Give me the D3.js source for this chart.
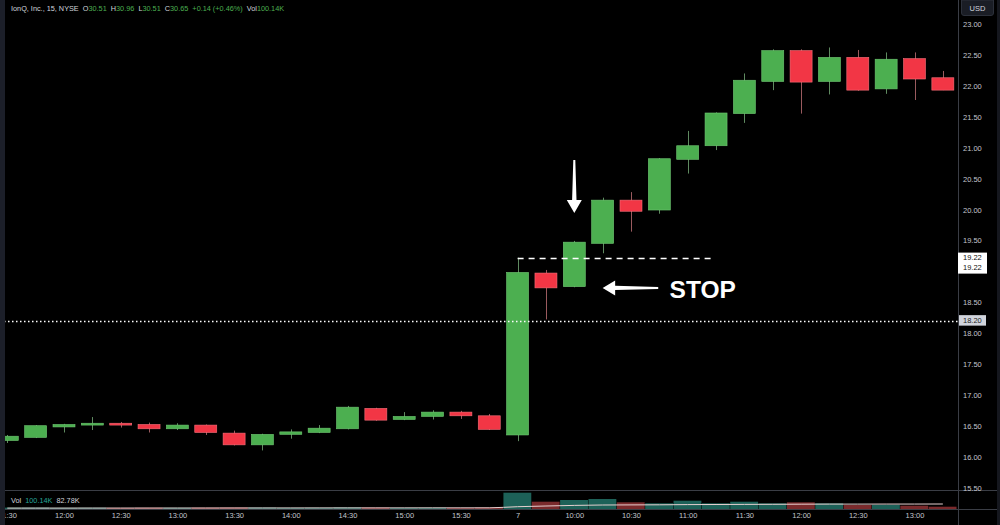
<!DOCTYPE html>
<html><head><meta charset="utf-8">
<script src="https://cdn.jsdelivr.net/npm/d3@7"></script>
<style>html,body{margin:0;padding:0;background:#000;}svg{display:block;}</style>
</head><body>
<svg id="chart" width="1000" height="525"></svg>
<script>
// ---- data (15-minute candles) ----
const times = ["11:30","11:45","12:00","12:15","12:30","12:45","13:00","13:15","13:30","13:45","14:00","14:15","14:30","14:45","15:00","15:15","15:30","15:45",
               "09:30","09:45","10:00","10:15","10:30","10:45","11:00","11:15","11:30","11:45","12:00","12:15","12:30","12:45","13:00","13:15"];
const opens  = [16.26,16.31,16.48,16.51,16.54,16.52,16.45,16.51,16.38,16.19,16.36,16.39,16.45,16.78,16.60,16.65,16.72,16.66,
                16.35,18.97,18.75,19.45,20.15,19.99,20.81,21.03,21.55,22.07,22.57,22.07,22.46,21.95,22.44,22.13];
const highs  = [16.35,16.51,16.53,16.64,16.56,16.55,16.54,16.52,16.42,16.37,16.44,16.51,16.82,16.79,16.72,16.75,16.74,16.69,
                19.22,19.02,19.49,20.19,20.28,20.83,21.27,21.57,22.20,22.59,22.59,22.62,22.58,22.54,22.54,22.24];
const lows   = [16.22,16.30,16.39,16.43,16.47,16.39,16.43,16.35,16.18,16.10,16.29,16.38,16.44,16.58,16.59,16.60,16.61,16.43,
                16.25,18.22,18.74,19.29,19.64,19.93,20.58,20.96,21.40,21.93,21.55,21.86,21.92,21.87,21.77,21.93];
const closes = [16.33,16.50,16.52,16.54,16.51,16.45,16.51,16.39,16.19,16.36,16.40,16.46,16.80,16.59,16.65,16.72,16.66,16.44,
                18.98,18.73,19.47,20.15,19.97,20.82,21.03,21.56,22.09,22.57,22.06,22.46,21.93,22.43,22.11,21.93];
const volumes = [140,150,120,130,110,130,120,140,160,150,120,130,170,150,120,130,110,150,
                 1630,730,900,1000,670,570,830,570,730,570,670,570,400,430,330,230]; // thousands
const volumeMA = [90,90,92,95,95,96,98,100,102,104,106,108,110,112,114,116,118,120,
                  230,300,360,400,410,420,440,450,460,470,480,490,490,495,495,500];
const priceTicks = [15.5,16,16.5,17,17.5,18,18.5,19.5,20,20.5,21,21.5,22,22.5,23];
const timeTickIdx = [0,2,4,6,8,10,12,14,16,18,20,22,24,26,28,30,32];
const timeTickLabels = ["11:30","12:00","12:30","13:00","13:30","14:00","14:30","15:00","15:30","7","10:00","10:30","11:00","11:30","12:00","12:30","13:00"];
const stopPrice = 19.22, lineLevel = 18.20;

// ---- layout / scales ----
const svg = d3.select("#chart");
const W = 1000, H = 525, axisX = 958.5;
const x = d3.scaleLinear().domain([0, times.length - 1]).range([7.3, 7.3 + 33 * 28.35]);
const y = d3.scaleLinear().domain([15.5, 23]).range([487.5, 24]);
const yv = d3.scaleLinear().domain([0, 1800]).range([509, 491]);
const bw = 22, step = 28.35;
const GREEN = "#4caf50", RED = "#f23645";
const FONT = "'Liberation Sans', Arial, sans-serif";

svg.append("rect").attr("width", W).attr("height", H).attr("fill", "#000");

const defs = svg.append("defs");
defs.append("clipPath").attr("id", "plot").append("rect").attr("x", 0).attr("y", 0).attr("width", axisX).attr("height", 490);
defs.append("clipPath").attr("id", "vol").append("rect").attr("x", 0).attr("y", 491).attr("width", axisX).attr("height", 18);

const data = times.map((t, i) => ({t, i, o: opens[i], h: highs[i], l: lows[i], c: closes[i], v: volumes[i], ma: volumeMA[i]}));

// ---- volume pane ----
const vg = svg.append("g").attr("clip-path", "url(#vol)");
vg.selectAll("rect.v").data(data).join("rect")
  .attr("x", d => x(d.i) - step / 2).attr("width", step - 0.5)
  .attr("y", d => yv(d.v)).attr("height", d => yv(0) - yv(d.v))
  .attr("fill", d => d.c >= d.o ? "#1d6158" : "#7a2a2c");
vg.append("path").datum(data)
  .attr("d", d3.line().x(d => x(d.i)).y(d => yv(d.ma)).curve(d3.curveMonotoneX))
  .attr("fill", "none").attr("stroke", "#e6cfcf").attr("stroke-width", 1);

// ---- candles ----
const cg = svg.append("g").attr("clip-path", "url(#plot)");
cg.selectAll("line.w").data(data).join("line")
  .attr("x1", d => Math.round(x(d.i)) + 0.5).attr("x2", d => Math.round(x(d.i)) + 0.5)
  .attr("y1", d => y(d.h)).attr("y2", d => y(d.l))
  .attr("stroke", d => d.c >= d.o ? "#5f8a60" : "#9a5a5e").attr("stroke-width", 1);
cg.selectAll("rect.b").data(data).join("rect")
  .attr("x", d => x(d.i) - bw / 2).attr("width", bw)
  .attr("y", d => y(Math.max(d.o, d.c)))
  .attr("height", d => Math.max(1, Math.abs(y(d.o) - y(d.c))))
  .attr("fill", d => d.c >= d.o ? GREEN : RED)
  .attr("stroke", d => d.c >= d.o ? "#6fc772" : "#f7707b").attr("stroke-width", 0.6);

// ---- horizontal lines ----
svg.append("line").attr("x1", 0).attr("x2", axisX).attr("y1", Math.round(y(lineLevel)) + 0.5).attr("y2", Math.round(y(lineLevel)) + 0.5)
  .attr("stroke", "#fff").attr("stroke-width", 1.5).attr("stroke-dasharray", "1.5,2.5");
svg.append("line").attr("x1", x(18)).attr("x2", x(24.96)).attr("y1", Math.round(y(stopPrice)) + 0.5).attr("y2", Math.round(y(stopPrice)) + 0.5)
  .attr("stroke", "#fff").attr("stroke-width", 1.3).attr("stroke-dasharray", "6,5");

// ---- arrows ----
{
  const ax = x(20), tipY = y(19.94), headY = tipY - 13, tailY = y(20.80);
  svg.append("path").attr("fill", "#fff")
    .attr("d", `M${ax - 1},${tailY} L${ax + 1},${tailY} L${ax + 2.2},${headY} L${ax + 7.5},${headY} L${ax},${tipY} L${ax - 7.5},${headY} L${ax - 2.2},${headY} Z`);
  const tx = x(21), ty = y(18.73), headX = tx + 12.5, tailX = x(22.96);
  svg.append("path").attr("fill", "#fff")
    .attr("d", `M${tx},${ty} L${headX},${ty - 7.5} L${headX},${ty - 2.2} L${tailX},${ty - 1} L${tailX},${ty + 1} L${headX},${ty + 2.2} L${headX},${ty + 7.5} Z`);
  svg.append("text").attr("x", x(23.36)).attr("y", y(18.565)).text("STOP")
    .attr("fill", "#fff").attr("font-family", FONT).attr("font-weight", "bold").attr("font-size", 24.5);
}

// ---- pane separators and side strips ----
svg.append("line").attr("x1", 0).attr("x2", W).attr("y1", 490.5).attr("y2", 490.5).attr("stroke", "#3a3d45");
svg.append("line").attr("x1", 0).attr("x2", W).attr("y1", 509.5).attr("y2", 509.5).attr("stroke", "#3a3d45");
svg.append("line").attr("x1", axisX).attr("x2", axisX).attr("y1", 0).attr("y2", H).attr("stroke", "#3a3d45");
svg.append("rect").attr("x", 0).attr("y", 0).attr("width", 5).attr("height", H).attr("fill", "#1c1f29");
svg.append("rect").attr("x", 997).attr("y", 0).attr("width", 3).attr("height", H).attr("fill", "#15171e");

// ---- price axis ----
const yAxis = d3.axisRight(y).tickValues(priceTicks).tickFormat(d3.format(".2f")).tickSize(0).tickPadding(0);
const ya = svg.append("g").attr("transform", `translate(963,0)`).call(yAxis);
ya.select(".domain").remove();
ya.selectAll("text").attr("fill", "#c3c6ce").attr("font-family", FONT).attr("font-size", 7.5).attr("dy", "0.35em");

// price label boxes
svg.append("rect").attr("x", 958).attr("y", y(stopPrice) - 5).attr("width", 29).attr("height", 21).attr("fill", "#fff");
svg.append("text").attr("x", 963).attr("y", y(stopPrice) + 2.7).text(d3.format(".2f")(stopPrice)).attr("fill", "#111").attr("font-family", FONT).attr("font-size", 7.5);
svg.append("text").attr("x", 963).attr("y", y(stopPrice) + 12).text(d3.format(".2f")(stopPrice)).attr("fill", "#111").attr("font-family", FONT).attr("font-size", 7.5);
svg.append("rect").attr("x", 959).attr("y", y(lineLevel) - 5.5).attr("width", 27).attr("height", 10.5).attr("fill", "#d1d4dc");
svg.append("text").attr("x", 963).attr("y", y(lineLevel) + 2.7).text(d3.format(".2f")(lineLevel)).attr("fill", "#222").attr("font-family", FONT).attr("font-size", 7.5);

// USD box
svg.append("path").attr("d", "M961.5,0 L993.5,0 L993.5,13 Q993.5,15.5 991,15.5 L964,15.5 Q961.5,15.5 961.5,13 Z")
  .attr("fill", "#1a1d25").attr("stroke", "#2c303a");
svg.append("text").attr("x", 977.5).attr("y", 10.5).attr("text-anchor", "middle").text("USD")
  .attr("fill", "#d1d4dc").attr("font-family", FONT).attr("font-size", 7.5);

// ---- time axis ----
const xAxis = d3.axisBottom(x).tickValues(timeTickIdx).tickFormat((d, k) => timeTickLabels[k]).tickSize(0).tickPadding(0);
const xa = svg.append("g").attr("transform", "translate(0,513)").call(xAxis);
xa.select(".domain").remove();
xa.selectAll("text").attr("fill", "#c3c6ce").attr("font-family", FONT).attr("font-size", 7.5).attr("dy", "0.71em");
svg.append("rect").attr("x", 0).attr("y", 510).attr("width", 5).attr("height", 15).attr("fill", "#1c1f29");

// ---- legends ----
const lg = svg.append("text").attr("x", 11).attr("y", 11).attr("font-family", FONT).attr("font-size", 7.3).attr("fill", "#d1d4dc");
const parts = [["IonQ, Inc., 15, NYSE", "#d1d4dc"], ["  O", "#d1d4dc"], ["30.51", "#4caf50"], ["  H", "#d1d4dc"], ["30.96", "#4caf50"],
               ["  L", "#d1d4dc"], ["30.51", "#4caf50"], ["  C", "#d1d4dc"], ["30.65", "#4caf50"], ["  +0.14 (+0.46%)", "#4caf50"],
               ["  Vol", "#d1d4dc"], ["100.14K", "#4caf50"]];
parts.forEach(p => lg.append("tspan").attr("fill", p[1]).style("white-space", "pre").text(p[0]));
const vl = svg.append("text").attr("x", 11).attr("y", 502.5).attr("font-family", FONT).attr("font-size", 7.3).style("white-space", "pre");
vl.append("tspan").attr("fill", "#d1d4dc").text("Vol  ");
vl.append("tspan").attr("fill", "#26a69a").text("100.14K  ");
vl.append("tspan").attr("fill", "#d1d4dc").text("82.78K");
</script>
</body></html>
